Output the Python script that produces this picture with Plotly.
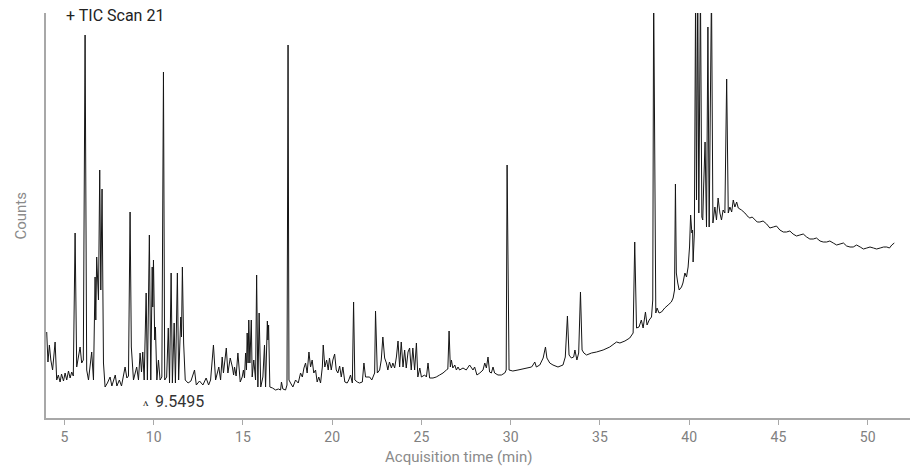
import plotly.graph_objects as go

# Acquisition time (min)
times = [
    4.01, 4.08, 4.16, 4.24, 4.34, 4.48, 4.57, 4.66, 4.76, 4.84, 4.95, 5.04, 5.13, 5.23, 5.32, 5.41, 5.50,
    5.60, 5.69, 5.88, 5.97, 6.06, 6.16, 6.25, 6.35, 6.53, 6.63, 6.72, 6.76, 6.81, 6.91, 6.98, 7.04, 7.11,
    7.19, 7.28, 7.41, 7.56, 7.66, 7.85, 7.94, 8.08, 8.20, 8.40, 8.50, 8.59, 8.68, 8.75, 8.87, 9.05, 9.15,
    9.24, 9.32, 9.39, 9.47, 9.58, 9.65, 9.76, 9.84, 9.92, 9.95, 9.99, 10.06, 10.10, 10.18, 10.27, 10.36,
    10.46, 10.55, 10.62, 10.73, 10.82, 10.89, 10.98, 11.05, 11.15, 11.22, 11.33, 11.40, 11.52, 11.56,
    11.61, 11.68, 11.77, 11.93, 12.09, 12.29, 12.39, 12.57, 12.76, 12.94, 13.08, 13.19, 13.35, 13.47,
    13.65, 13.75, 13.84, 13.91, 14.07, 14.16, 14.29, 14.41, 14.48, 14.53, 14.62, 14.72, 14.85, 14.96,
    15.03, 15.09, 15.15, 15.20, 15.24, 15.29, 15.33, 15.39, 15.47, 15.52, 15.61, 15.71, 15.77, 15.84,
    15.91, 16.00, 16.12, 16.21, 16.27, 16.37, 16.40, 16.44, 16.51, 16.66, 16.83, 16.99, 17.11, 17.16,
    17.24, 17.39, 17.47, 17.53, 17.58, 17.67, 17.80, 17.95, 18.10, 18.23, 18.33, 18.42, 18.51, 18.60,
    18.70, 18.79, 18.88, 18.97, 19.07, 19.16, 19.25, 19.35, 19.45, 19.50, 19.59, 19.69, 19.78, 19.85,
    19.95, 20.04, 20.14, 20.23, 20.32, 20.42, 20.51, 20.60, 20.71, 20.84, 20.93, 21.03, 21.13, 21.20,
    21.27, 21.41, 21.53, 21.69, 21.78, 21.87, 22.10, 22.22, 22.38, 22.43, 22.53, 22.66, 22.75, 22.84,
    22.94, 23.04, 23.12, 23.21, 23.32, 23.40, 23.50, 23.60, 23.69, 23.78, 23.87, 23.97, 24.06, 24.15,
    24.25, 24.34, 24.43, 24.52, 24.62, 24.72, 24.80, 24.91, 25.00, 25.18, 25.28, 25.37, 25.46, 25.65,
    25.83, 26.02, 26.21, 26.40, 26.48, 26.55, 26.62, 26.68, 26.76, 26.87, 26.96, 27.05, 27.14, 27.33,
    27.51, 27.70, 27.89, 27.98, 28.11, 28.27, 28.45, 28.55, 28.64, 28.73, 28.82, 28.92, 29.01, 29.10,
    29.29, 29.48, 29.67, 29.75, 29.80, 29.91, 30.12, 30.41, 30.69, 30.97, 31.17, 31.25, 31.35, 31.44,
    31.63, 31.82, 31.95, 32.03, 32.19, 32.37, 32.65, 32.93, 33.06, 33.18, 33.27, 33.40, 33.53, 33.60,
    33.71, 33.81, 33.91, 34.00, 34.10, 34.25, 34.53, 34.81, 35.18, 35.55, 35.83, 35.93, 36.12, 36.40,
    36.67, 36.86, 36.95, 37.05, 37.19, 37.32, 37.42, 37.55, 37.64, 37.76, 37.89, 37.96, 38.01, 38.09,
    38.13, 38.20, 38.31, 38.45, 38.63, 38.82, 39.00, 39.10, 39.18, 39.23, 39.28, 39.36, 39.44, 39.57,
    39.65, 39.76, 39.85, 39.94, 40.02, 40.08, 40.15, 40.19, 40.22, 40.29, 40.36, 40.41, 40.48, 40.54,
    40.63, 40.71, 40.76, 40.81, 40.89, 40.97, 41.05, 41.12, 41.25, 41.33, 41.44, 41.53, 41.62, 41.72,
    41.81, 41.90, 42.00, 42.10, 42.19, 42.28, 42.38, 42.47, 42.56, 42.66, 42.75, 42.93, 43.12, 43.31,
    43.40, 43.53, 43.68, 43.81, 43.96, 44.14, 44.34, 44.52, 44.71, 44.89, 45.08, 45.27, 45.45, 45.64,
    45.82, 46.01, 46.20, 46.39, 46.58, 46.76, 46.95, 47.13, 47.33, 47.51, 47.70, 47.88, 48.07, 48.26,
    48.45, 48.64, 48.82, 49.01, 49.19, 49.38, 49.58, 49.76, 49.95, 50.13, 50.32, 50.50, 50.70, 50.89,
    51.07, 51.22, 51.35, 51.49,
]

# Relative abundance (counts, arbitrary units)
counts = [
    86, 56, 73, 58, 48, 76, 38, 43, 36, 44, 37, 45, 38, 47, 40, 46, 42,
    185, 51, 71, 55, 58, 383, 48, 38, 66, 38, 141, 98, 161, 118, 248, 128, 229,
    55, 31, 35, 41, 32, 43, 32, 38, 32, 51, 40, 42, 206, 71, 38, 51, 38,
    65, 46, 66, 38, 125, 38, 183, 38, 151, 111, 158, 78, 91, 38, 58, 38,
    41, 346, 38, 41, 90, 35, 145, 35, 95, 35, 145, 38, 101, 81,
    151, 75, 38, 35, 37, 48, 33, 37, 33, 40, 33, 38, 73, 38,
    51, 38, 61, 45, 70, 45, 60, 51, 43, 51, 42, 65, 36, 41,
    48, 40, 65, 48, 85, 55, 98, 55, 98, 41, 58, 38, 143, 31,
    105, 31, 41, 73, 31, 97, 78, 93, 31, 30, 28, 29, 28, 36,
    29, 28, 33, 373, 38, 35, 31, 38, 35, 45, 41, 50, 55, 45,
    66, 51, 58, 45, 48, 36, 41, 35, 51, 73, 51, 58, 48, 60,
    48, 58, 64, 48, 45, 52, 41, 51, 36, 35, 38, 43, 35, 116,
    38, 36, 35, 36, 55, 41, 41, 38, 45, 107, 45, 48, 58, 81,
    60, 55, 48, 56, 50, 55, 50, 61, 77, 51, 76, 51, 68, 50,
    66, 70, 48, 70, 48, 75, 41, 50, 41, 43, 41, 55, 40, 40,
    41, 43, 45, 48, 49, 87, 51, 58, 50, 53, 48, 51, 48, 50,
    48, 53, 48, 51, 43, 45, 48, 55, 50, 61, 46, 45, 51, 45,
    43, 43, 45, 48, 253, 48, 47, 48, 49, 50, 51, 53, 56, 51,
    53, 60, 71, 60, 55, 53, 51, 53, 61, 102, 63, 60, 61, 68,
    58, 65, 126, 68, 65, 63, 65, 66, 68, 71, 75, 76, 75, 77,
    80, 85, 176, 90, 91, 98, 90, 106, 93, 98, 101, 118, 430, 118,
    105, 110, 105, 106, 110, 113, 116, 120, 128, 234, 145, 135, 128, 131,
    135, 145, 141, 151, 171, 203, 185, 188, 156, 185, 430, 218, 430, 205,
    430, 201, 198, 231, 276, 191, 391, 191, 430, 195, 211, 198, 220, 205,
    198, 208, 205, 339, 205, 211, 206, 218, 211, 216, 210, 208, 205, 201,
    200, 201, 198, 196, 196, 197, 194, 190, 191, 192, 188, 186, 186, 187,
    184, 182, 183, 184, 181, 179, 179, 180, 177, 176, 176, 177, 175, 173,
    174, 175, 172, 171, 171, 173, 171, 169, 170, 171, 170, 169, 170, 171,
    171, 170, 173, 175,
]

x_ticks = [5, 10, 15, 20, 25, 30, 35, 40, 45, 50]
marked_time = 9.5495
title_text = "+ TIC Scan 21"

FONT = "Roboto"

fig = go.Figure()
fig.add_trace(go.Scatter(
    x=times, y=counts, mode="lines",
    line=dict(color="#151515", width=1),
    hoverinfo="skip", showlegend=False,
))

fig.update_layout(
    width=919, height=471,
    margin=dict(l=46, r=9, t=13, b=53),
    paper_bgcolor="white", plot_bgcolor="white",
    font=dict(family=FONT),
    xaxis=dict(
        range=[3.97, 52.37], showgrid=False, zeroline=False,
        showline=True, linecolor="#a8a8a8", linewidth=1.5,
        ticks="outside", ticklen=5, tickwidth=1, tickcolor="#a8a8a8",
        tickvals=x_ticks, ticktext=[str(v) for v in x_ticks],
        tickfont=dict(family=FONT, size=14, color="#808080"),
    ),
    yaxis=dict(
        range=[0, 405], showgrid=False, zeroline=False,
        showline=True, linecolor="#a8a8a8", linewidth=1.5,
        showticklabels=False, ticks="",
    ),
    annotations=[
        dict(text=title_text, xref="paper", yref="paper", x=0.021, y=1.0,
             xanchor="left", yanchor="middle", yshift=-2, showarrow=False,
             font=dict(family=FONT, size=16, color="#222222")),
        dict(text="Counts", xref="paper", yref="paper", x=0, y=0.5,
             xanchor="center", yanchor="middle", xshift=-26, textangle=-90,
             showarrow=False, font=dict(family=FONT, size=15, color="#8a8a8a")),
        dict(text="Acquisition time (min)", xref="paper", yref="paper", x=0.478, y=0,
             xanchor="center", yanchor="middle", yshift=-39, showarrow=False,
             font=dict(family=FONT, size=15, color="#8a8a8a")),
        dict(text="\u028c", x=marked_time, y=16, xref="x", yref="y",
             xanchor="center", yanchor="middle", showarrow=False,
             font=dict(family=FONT, size=11, color="#222222")),
        dict(text=f"{marked_time}", x=marked_time + 0.4, y=17, xref="x", yref="y",
             xanchor="left", yanchor="middle", showarrow=False,
             font=dict(family=FONT, size=16, color="#333333")),
    ],
)

fig.write_html("out.html")
